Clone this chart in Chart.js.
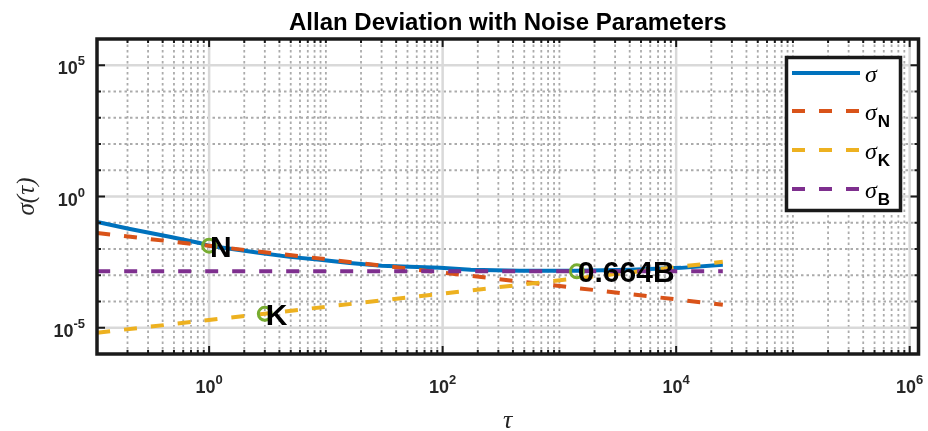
<!DOCTYPE html>
<html>
<head>
<meta charset="utf-8">
<script src="https://cdn.jsdelivr.net/npm/chart.js@4.4.0/dist/chart.umd.min.js"></script>
<style>
  html, body { margin: 0; padding: 0; background: #fff; }
  #wrap { width: 928px; height: 431px; }
</style>
</head>
<body>
<div id="wrap"><canvas id="allanChart"></canvas></div>
<script>
// Allan deviation
const tauSigma = [0.11, 0.21, 0.47, 0.83, 1, 2.75, 4.9, 8.9, 16, 30, 52, 95, 174, 457, 1410, 4070, 11000, 25100];
const sigma = [0.107, 0.0575, 0.0288, 0.0170, 0.0132, 0.00708, 0.00501, 0.00389, 0.00295, 0.00229, 0.00209, 0.00191, 0.00162, 0.00148, 0.00148, 0.00162, 0.00191, 0.00251];

// noise parameter lines (straight in log-log, end points only)
const tauFit = [0.11, 25100];
const sigmaN = [0.0407, 0.000075];
const sigmaK = [0.0000065, 0.00324];
const sigmaB = [0.00141, 0.00141];

// marked points + labels
const markTau = [1, 3, 1410];
const markSigma = [0.0134, 0.0000339, 0.00141];
const markText = ['N', 'K', '0.664B'];

// axis tick exponents
const xTickExp = ['0', '2', '4', '6'];
const yTickExp = ['5', '0', '-5'];

// legend entries: symbol + subscript
const legendSym = ['σ', 'σ', 'σ', 'σ'];
const legendSub = ['', 'N', 'K', 'B'];

const pts = (xs, ys) => xs.map((v, i) => ({ x: v, y: ys[i] }));

const SANS = '"Liberation Sans", Arial, sans-serif';
const SERIF = '"Liberation Serif", "Times New Roman", serif';

function drawPow(ctx, exp, x, y, align) {
    ctx.font = 'bold 18px ' + SANS;
    const wb = ctx.measureText('10').width;
    ctx.font = 'bold 13px ' + SANS;
    const we = ctx.measureText(exp).width;
    const x0 = align === 'center' ? x - (wb + we) / 2 : x - (wb + we);
    ctx.textAlign = 'left';
    ctx.font = 'bold 18px ' + SANS;
    ctx.fillText('10', x0, y);
    ctx.font = 'bold 13px ' + SANS;
    ctx.fillText(exp, x0 + wb, y - 9);
}

const matlabAxes = {
    id: 'matlabAxes',
    beforeDatasetsDraw(chart) {
        const { ctx, chartArea: a, scales: { x, y } } = chart;
        ctx.save();
        ctx.fillStyle = '#fff';
        ctx.fillRect(a.left, a.top, a.right - a.left, a.bottom - a.top);

        // minor grid, dotted
        ctx.strokeStyle = '#ababab';
        ctx.lineWidth = 1.8;
        ctx.setLineDash([2.5, 3]);
        for (let e = -1; e <= 6; e++) {
            for (let k = 1; k <= 9; k++) {
                const v = k * Math.pow(10, e);
                if (v < x.min || v > x.max) continue;
                if (k === 1 && e % 2 === 0) continue;
                const px = x.getPixelForValue(v);
                ctx.beginPath(); ctx.moveTo(px, a.top); ctx.lineTo(px, a.bottom); ctx.stroke();
            }
        }
        for (let e = -6; e <= 6; e++) {
            if (e % 5 === 0) continue;
            const py = y.getPixelForValue(Math.pow(10, e));
            ctx.beginPath(); ctx.moveTo(a.left, py); ctx.lineTo(a.right, py); ctx.stroke();
        }

        // major grid, solid
        ctx.setLineDash([]);
        ctx.strokeStyle = '#d9d9d9';
        ctx.lineWidth = 2.5;
        xTickExp.forEach(ex => {
            const px = x.getPixelForValue(Math.pow(10, +ex));
            ctx.beginPath(); ctx.moveTo(px, a.top); ctx.lineTo(px, a.bottom); ctx.stroke();
        });
        yTickExp.forEach(ex => {
            const py = y.getPixelForValue(Math.pow(10, +ex));
            ctx.beginPath(); ctx.moveTo(a.left, py); ctx.lineTo(a.right, py); ctx.stroke();
        });
        ctx.restore();
    },
    afterDatasetsDraw(chart) {
        const { ctx, chartArea: a, scales: { x, y } } = chart;
        ctx.save();
        ctx.setLineDash([]);

        // point labels
        ctx.fillStyle = '#000';
        ctx.font = 'bold 30px ' + SANS;
        ctx.textAlign = 'left';
        markText.forEach((t, i) => {
            const px = x.getPixelForValue(markTau[i]);
            const py = y.getPixelForValue(markSigma[i]);
            ctx.fillText(t, px + 1, py + 11);
        });

        // ticks (inward, all four sides)
        ctx.strokeStyle = '#1a1a1a';
        ctx.lineWidth = 2;
        for (let e = -1; e <= 6; e++) {
            for (let k = 1; k <= 9; k++) {
                const v = k * Math.pow(10, e);
                if (v < x.min || v > x.max) continue;
                const len = (k === 1 && e % 2 === 0) ? 8 : 4;
                const px = x.getPixelForValue(v);
                ctx.beginPath();
                ctx.moveTo(px, a.bottom); ctx.lineTo(px, a.bottom - len);
                ctx.moveTo(px, a.top); ctx.lineTo(px, a.top + len);
                ctx.stroke();
            }
        }
        for (let e = -6; e <= 6; e++) {
            const len = e % 5 === 0 ? 8 : 4;
            const py = y.getPixelForValue(Math.pow(10, e));
            ctx.beginPath();
            ctx.moveTo(a.left, py); ctx.lineTo(a.left + len, py);
            ctx.moveTo(a.right, py); ctx.lineTo(a.right - len, py);
            ctx.stroke();
        }

        // frame
        ctx.lineWidth = 3.5;
        ctx.strokeRect(a.left, a.top, a.right - a.left, a.bottom - a.top);

        // tick labels
        ctx.fillStyle = '#262626';
        xTickExp.forEach(ex => drawPow(ctx, ex, x.getPixelForValue(Math.pow(10, +ex)), 393, 'center'));
        yTickExp.forEach(ex => drawPow(ctx, ex, 85, y.getPixelForValue(Math.pow(10, +ex)) + 9, 'right'));

        // title
        ctx.fillStyle = '#000';
        ctx.font = 'bold 24px ' + SANS;
        ctx.textAlign = 'center';
        ctx.fillText('Allan Deviation with Noise Parameters', (a.left + a.right) / 2, 30);

        // axis titles
        ctx.fillStyle = '#262626';
        ctx.font = 'italic 26px ' + SERIF;
        ctx.fillText('τ', (a.left + a.right) / 2, 428);
        ctx.save();
        ctx.translate(27, (a.top + a.bottom) / 2);
        ctx.rotate(-Math.PI / 2);
        ctx.font = 'italic 25px ' + SERIF;
        ctx.fillText('σ(τ)', 0, 7);
        ctx.restore();

        // legend box
        const lx = 786.5, ly = 57.5, lw = 114, lh = 153;
        ctx.fillStyle = '#fff';
        ctx.fillRect(lx, ly, lw, lh);
        ctx.strokeStyle = '#1a1a1a';
        ctx.lineWidth = 3.5;
        ctx.strokeRect(lx, ly, lw, lh);
        const rowY = [73, 111, 150, 189];
        chart.data.datasets.slice(0, 4).forEach((ds, i) => {
            ctx.strokeStyle = ds.borderColor;
            ctx.lineWidth = 4;
            ctx.setLineDash(ds.borderDash || []);
            ctx.beginPath(); ctx.moveTo(792, rowY[i]); ctx.lineTo(860, rowY[i]); ctx.stroke();
            ctx.setLineDash([]);
            ctx.fillStyle = '#000';
            ctx.textAlign = 'left';
            ctx.font = 'italic 24px ' + SERIF;
            ctx.fillText(legendSym[i], 865, rowY[i] + 9);
            const w = ctx.measureText(legendSym[i]).width;
            ctx.font = 'bold 17px ' + SANS;
            ctx.fillText(legendSub[i], 866 + w, rowY[i] + 16);
        });
        ctx.restore();
    }
};

new Chart(document.getElementById('allanChart'), {
    type: 'line',
    data: {
        datasets: [
            { label: 'σ', data: pts(tauSigma, sigma), borderColor: '#0072BD', borderWidth: 4, pointRadius: 0, order: 5 },
            { label: 'σN', data: pts(tauFit, sigmaN), borderColor: '#D95319', borderWidth: 4, borderDash: [13, 14], pointRadius: 0, order: 4 },
            { label: 'σK', data: pts(tauFit, sigmaK), borderColor: '#EDB120', borderWidth: 4, borderDash: [13, 14], pointRadius: 0, order: 3 },
            { label: 'σB', data: pts(tauFit, sigmaB), borderColor: '#7E2F8E', borderWidth: 4, borderDash: [13, 14], pointRadius: 0, order: 2 },
            {
                label: 'marks', data: pts(markTau, markSigma), showLine: false,
                pointRadius: 6.5, pointBorderWidth: 3, pointBorderColor: '#77AC30',
                pointBackgroundColor: 'rgba(0,0,0,0)', order: 1
            }
        ]
    },
    options: {
        responsive: true,
        maintainAspectRatio: false,
        animation: false,
        layout: { padding: { left: 97, right: 9, top: 39, bottom: 77 } },
        plugins: { legend: { display: false }, tooltip: { enabled: false } },
        scales: {
            x: { type: 'logarithmic', min: 0.1096, max: 1190000, display: false },
            y: { type: 'logarithmic', min: 1e-6, max: 1e6, display: false }
        }
    },
    plugins: [matlabAxes]
});
</script>
</body>
</html>
